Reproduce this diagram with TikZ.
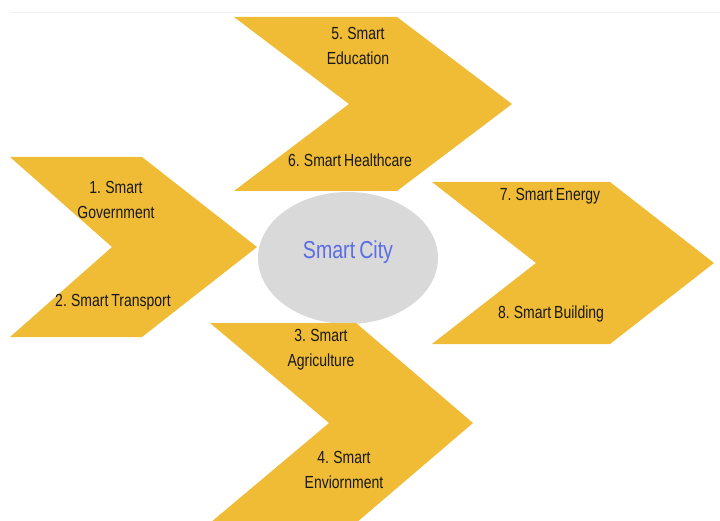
\documentclass[tikz,border=0pt]{standalone}
\usepackage{fontspec}
\setmainfont{Liberation Sans}[FakeStretch=0.8, WordSpace=0.75]
\definecolor{chevron}{HTML}{F0BC36}
\definecolor{hub}{HTML}{D9D9D9}
\definecolor{hubtext}{HTML}{5A6DE6}

\begin{document}
\begin{tikzpicture}[x=1pt, y=-1pt, every node/.style={font=\fontsize{17.5}{25}\selectfont, text=black!90, align=center}]
\useasboundingbox (0,0) rectangle (720,521);
\draw[gray!12] (10,12) -- (720,12);
\fill[hub] (348,258) ellipse [x radius=90, y radius=66];
% the four chevrons
\fill[chevron] (234,17) -- (397,17) -- (512,104) -- (397,191) -- (234,191) -- (349,104) -- cycle;
\fill[chevron] (10,157) -- (142,157) -- (257,247) -- (142,337) -- (10,337) -- (112,247) -- cycle;
\fill[chevron] (432,182) -- (610,182) -- (714,263) -- (610,344) -- (432,344) -- (536,263) -- cycle;
\fill[chevron] (210,323) -- (356,323) -- (473,423) -- (356,523) -- (210,523) -- (329,423) -- cycle;
\node (city) at (348,252) {\fontsize{24.5}{25}\selectfont\color{hubtext}Smart City};
\node (gov)  at (116,200) {1. Smart\\Government};
\node (trans) at (113,302) {2. Smart Transport};
\node (agri) at (321,350) {3. Smart\\Agriculture};
\node (env)  at (344,470) {4. Smart\\Enviornment};
\node (edu)  at (358,46)  {5. Smart\\Education};
\node (health) at (350,160) {6. Smart Healthcare};
\node (energy) at (550,196) {7. Smart Energy};
\node (build) at (551,314) {8. Smart Building};
\end{tikzpicture}
\end{document}
